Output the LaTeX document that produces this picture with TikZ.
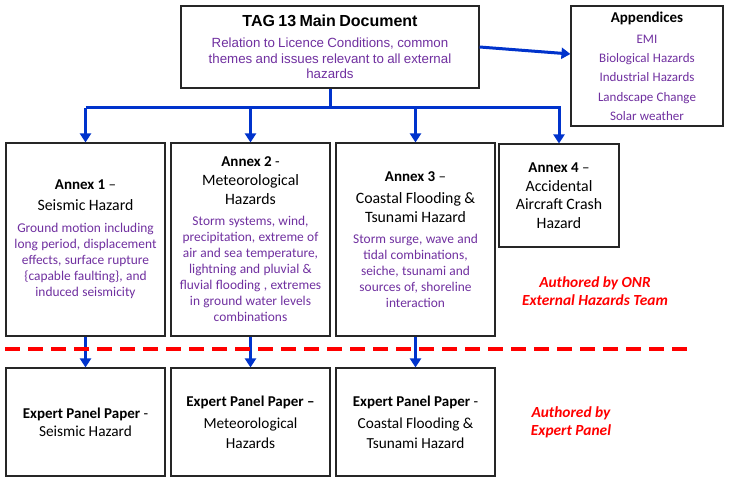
\documentclass[tikz,border=0pt]{standalone}
\usepackage{fontspec}
\setmainfont{Carlito}
\newfontfamily\arialf{Liberation Sans}
\usetikzlibrary{arrows.meta,shadows}
\definecolor{purp}{HTML}{7030A0}
\definecolor{ablue}{HTML}{0033CC}
\definecolor{ared}{HTML}{FF0000}
\newcommand{\fs}[2]{\fontsize{#1}{#2}\selectfont}
\tikzset{
  box/.style={draw=black!85, line width=1.1pt, inner sep=0pt, align=center, fill=white,
    drop shadow={shadow xshift=1.2pt, shadow yshift=-1.2pt, fill=black!40, opacity=1}},
  annexbox/.style={box, minimum width=159pt, minimum height=193pt, text width=157pt},
  expertbox/.style={box, minimum width=159pt, minimum height=108pt, text width=157pt},
  conn/.style={draw=ablue, line width=3pt},
  connarrow/.style={conn, -{Triangle[width=11pt,length=9pt]}},
  authored/.style={text=ared, font=\bfseries\itshape\fs{15.4}{18}, align=center},
}
\begin{document}
\begin{tikzpicture}[x=1pt,y=-1pt]
\useasboundingbox[fill=white] (0,0) rectangle (729,481);

% main document
\node[box, minimum width=298pt, minimum height=82pt, text width=296pt] (main) at (330,47)
 {{\arialf\bfseries\fs{16}{18}TAG 13 Main Document\par}\vspace{5.5pt}
  {\arialf\color{purp}\fs{13.3}{15.5}Relation to Licence Conditions, common\\themes and issues relevant to all external\\hazards\par}};

% appendices
\node[box, minimum width=152pt, minimum height=120pt, text width=150pt] (app) at (647,66)
 {{\bfseries\fs{15}{15}Appendices\par}\vspace{1.7pt}
  {\color{purp}\fs{13}{19.3}EMI\\Biological Hazards\\Industrial Hazards\\Landscape Change\\Solar weather\par}};

% annexes
\node[annexbox] (a1) at (85.5,239.5)
 {{\bfseries\fs{15}{17}Annex 1 \mdseries–\par}\vspace{2pt}
  {\fs{15.8}{19}Seismic Hazard\par}\vspace{6pt}
  {\color{purp}\fs{13.4}{16}Ground motion including\\long period, displacement\\effects, surface rupture\\\{capable faulting\}, and\\induced seismicity\par}};

\node[annexbox] (a2) at (250.5,239.5)
 {{\bfseries\fs{15}{17}Annex 2 \mdseries-\par}
  {\fs{15.8}{19}Meteorological\\Hazards\par}\vspace{5pt}
  {\color{purp}\fs{13.4}{16}Storm systems, wind,\\precipitation, extreme of\\air and sea temperature,\\lightning and pluvial \&\\fluvial flooding , extremes\\in ground water levels\\combinations\par}};

\node[annexbox] (a3) at (415.5,239.5)
 {{\bfseries\fs{15}{17}Annex 3 \mdseries–\par}\vspace{3pt}
  {\fs{15.8}{19}Coastal Flooding \&\\Tsunami Hazard\par}\vspace{5pt}
  {\color{purp}\fs{13.4}{16}Storm surge, wave and\\tidal combinations,\\seiche, tsunami and\\sources of, shoreline\\interaction\par}};

\node[box, minimum width=120pt, minimum height=103pt, text width=118pt] (a4) at (559,195.5)
 {{\bfseries\fs{15}{17}Annex 4 \mdseries–\par}\vspace{0.5pt}
  {\fs{15.8}{18.5}Accidental\\Aircraft Crash\\Hazard\par}};

% expert panel papers
\node[expertbox] (e1) at (85.5,422)
 {{\bfseries\fs{15}{17}Expert Panel Paper \mdseries-\par}
  {\fs{15.3}{18}Seismic Hazard\par}};
\node[expertbox] (e2) at (250.5,422)
 {{\bfseries\fs{15}{17}Expert Panel Paper –\par}\vspace{2pt}
  {\fs{15.3}{20}Meteorological\\Hazards\par}};
\node[expertbox] (e3) at (415.5,422)
 {{\bfseries\fs{15}{17}Expert Panel Paper \mdseries-\par}\vspace{3pt}
  {\fs{15.3}{19.5}Coastal Flooding \&\\Tsunami Hazard\par}};

% authored labels
\node[authored] (onr) at (595,291) {Authored by ONR\\External Hazards Team};
\node[authored] (exp) at (571,422.5) {Authored by\\Expert Panel};

% connectors
\coordinate (bus) at (330,108);
\draw[conn] (main.south) -- (bus);
\draw[conn] (a1.north |- bus) -- (a4.north |- bus);
\draw[connarrow] (a1.north |- bus) -- (a1.north);
\draw[connarrow] (a2.north |- bus) -- (a2.north);
\draw[connarrow] (a3.north |- bus) -- (a3.north);
\draw[connarrow, shorten <=-1.5pt] (a4.north |- bus) -- (a4.north);
\draw[connarrow] (main.east) -- ([yshift=12pt]app.west);

\draw[connarrow] (a1.south) -- (e1.north);
\draw[connarrow] (a2.south) -- (e2.north);
\draw[connarrow] (a3.south) -- (e3.north);

% dashed divider
\coordinate (dl) at (5,349);
\coordinate (dr) at (690,349);
\draw[ared, line width=3.2pt, dash pattern=on 15pt off 8pt] (dl) -- (dr);
\end{tikzpicture}
\end{document}
